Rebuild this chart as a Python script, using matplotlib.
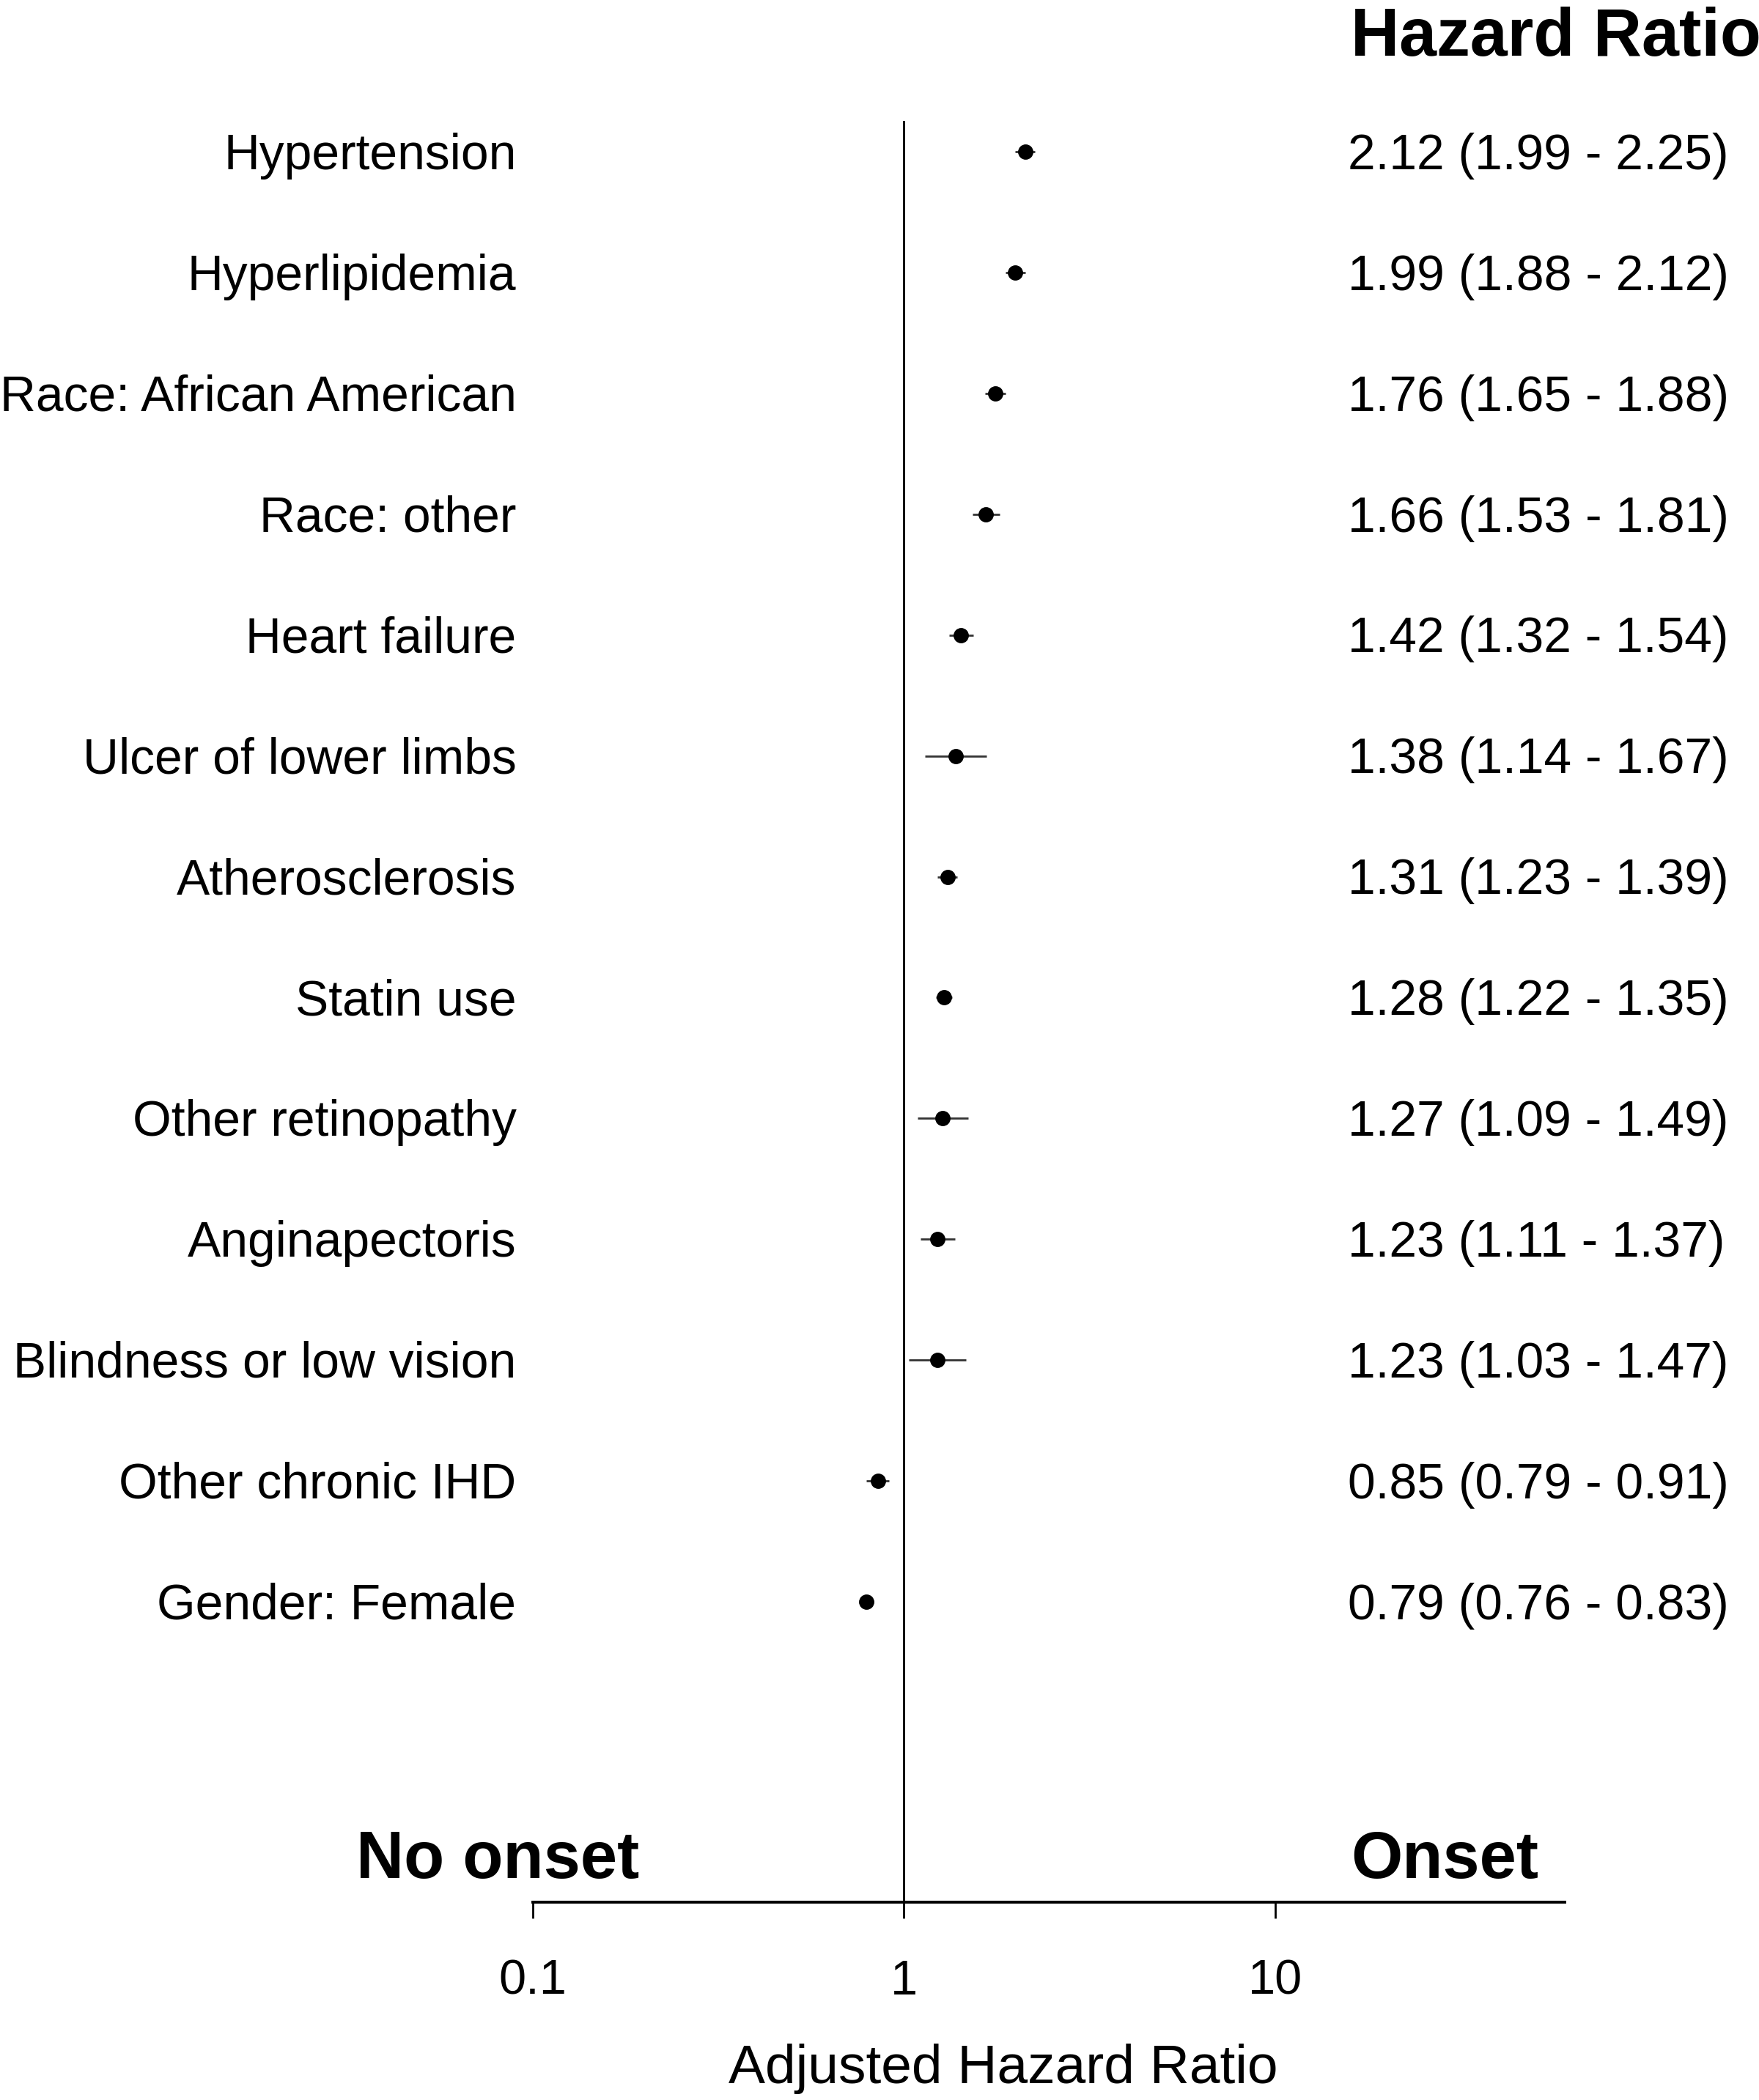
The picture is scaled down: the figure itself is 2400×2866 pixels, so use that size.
import matplotlib
matplotlib.use("Agg")
import matplotlib.pyplot as plt
import matplotlib.transforms as mtransforms

plt.rcParams['font.family'] = ['Liberation Sans', 'DejaVu Sans']

labels = ["Hypertension", "Hyperlipidemia", "Race: African American", "Race: other",
          "Heart failure", "Ulcer of lower limbs", "Atherosclerosis", "Statin use",
          "Other retinopathy", "Anginapectoris", "Blindness or low vision",
          "Other chronic IHD", "Gender: Female"]
hr = [2.12, 1.99, 1.76, 1.66, 1.42, 1.38, 1.31, 1.28, 1.27, 1.23, 1.23, 0.85, 0.79]
lo = [1.99, 1.88, 1.65, 1.53, 1.32, 1.14, 1.23, 1.22, 1.09, 1.11, 1.03, 0.79, 0.76]
hi = [2.25, 2.12, 1.88, 1.81, 1.54, 1.67, 1.39, 1.35, 1.49, 1.37, 1.47, 0.91, 0.83]
hr_text = ["2.12 (1.99 - 2.25)", "1.99 (1.88 - 2.12)", "1.76 (1.65 - 1.88)",
           "1.66 (1.53 - 1.81)", "1.42 (1.32 - 1.54)", "1.38 (1.14 - 1.67)",
           "1.31 (1.23 - 1.39)", "1.28 (1.22 - 1.35)", "1.27 (1.09 - 1.49)",
           "1.23 (1.11 - 1.37)", "1.23 (1.03 - 1.47)", "0.85 (0.79 - 0.91)",
           "0.79 (0.76 - 0.83)"]
xticks = [0.1, 1, 10]
xtick_labels = ["0.1", "1", "10"]

W, H = 2400, 2866
fig = plt.figure(figsize=(12, 14.33), dpi=200)
ax_left, ax_right = 727 / W, 2135 / W
ax_top, ax_bottom = 1 - 165 / H, 1 - 2596 / H
ax = fig.add_axes([ax_left, ax_bottom, ax_right - ax_left, ax_top - ax_bottom])

ypos = list(range(len(labels)))
for y, h, l, u in zip(ypos, hr, lo, hi):
    ax.plot([l, u], [y, y], color='#333333', lw=1.0, solid_capstyle='butt', zorder=2)
ax.plot(hr, ypos, 'o', color='black', markersize=6.5, zorder=3)

ax.set_xscale('log')
ax.set_xlim(0.1, 10 ** 1.78)
ax.set_ylim(14.486, -0.255)
ax.axvline(1, color='black', lw=1.0, zorder=1)

for s in ['top', 'right', 'left']:
    ax.spines[s].set_visible(False)
ax.spines['bottom'].set_linewidth(1.4)
ax.set_yticks([])
ax.set_xticks(xticks)
ax.set_xticklabels(xtick_labels)
ax.xaxis.set_minor_locator(matplotlib.ticker.NullLocator())
ax.tick_params(axis='x', direction='out', length=8, width=1.0, pad=20, labelsize=24)

trans = mtransforms.blended_transform_factory(ax.transAxes, ax.transData)
dy = 0.035
for y, lab, t in zip(ypos, labels, hr_text):
    ax.text(-0.016, y + dy, lab, transform=trans, ha='right', va='center', fontsize=24.4)
    ax.text((1839 - 727) / 1408, y + dy, t, transform=trans, ha='left', va='center', fontsize=24.4)

fig.text(1843 / W, 1 - 52 / H, "Hazard Ratio", ha='left', va='center', fontsize=33, fontweight='bold')
fig.text(679 / W, 1 - 2540 / H, "No onset", ha='center', va='center', fontsize=32.5, fontweight='bold')
fig.text(1843 / W, 1 - 2540 / H, "Onset", ha='left', va='center', fontsize=32.5, fontweight='bold')
fig.text(1369 / W, 1 - 2824 / H, "Adjusted Hazard Ratio", ha='center', va='center', fontsize=27)

fig.savefig("out.png", dpi=200, facecolor='white')
